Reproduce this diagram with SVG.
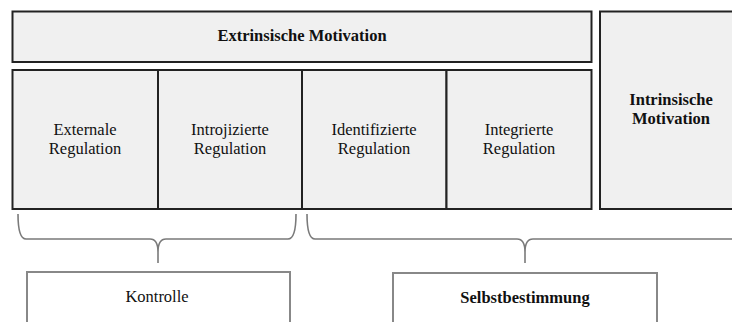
<svg xmlns="http://www.w3.org/2000/svg" width="732" height="322" viewBox="0 0 732 322">
<style>
.box{fill:#f0f0f0;stroke:#222;stroke-width:2}
.sub{fill:#fff;stroke:#888;stroke-width:2}
.brace{fill:none;stroke:#7a7a7a;stroke-width:1.6}
.t{font-family:'Liberation Serif','Times New Roman',serif;font-size:16.5px;fill:#111;text-anchor:middle}
.b{font-weight:bold}
</style>
<rect width="732" height="322" fill="#fff"/>
<g id="extrinsisch">
<rect class="box" x="12.5" y="11.5" width="579" height="50.5"/>
<text class="t b" x="302" y="41">Extrinsische Motivation</text>
</g>
<g id="external">
<rect class="box" x="12.5" y="70" width="145.5" height="139"/>
<text class="t" x="85" y="135">Externale</text>
<text class="t" x="85" y="154">Regulation</text>
</g>
<g id="introjiziert">
<rect class="box" x="158" y="70" width="144" height="139"/>
<text class="t" x="230" y="135">Introjizierte</text>
<text class="t" x="230" y="154">Regulation</text>
</g>
<g id="identifiziert">
<rect class="box" x="302" y="70" width="144.5" height="139"/>
<text class="t" x="374" y="135">Identifizierte</text>
<text class="t" x="374" y="154">Regulation</text>
</g>
<g id="integriert">
<rect class="box" x="446.5" y="70" width="145" height="139"/>
<text class="t" x="519" y="135">Integrierte</text>
<text class="t" x="519" y="154">Regulation</text>
</g>
<g id="intrinsisch">
<rect class="box" x="600" y="11.5" width="150" height="197.5"/>
<text class="t b" x="671" y="105">Intrinsische</text>
<text class="t b" x="671" y="124">Motivation</text>
</g>
<g id="connectors">
<path class="brace" d="M18,214 Q18,239 26,239 H150 Q158,239 158,252 V263 M158,252 Q158,239 166,239 H288 Q296,239 296,214"/>
<path class="brace" d="M307,214 Q307,239 315,239 H517 Q525,239 525,252 V263 M525,252 Q525,239 533,239 H735 Q743,239 743,214"/>
</g>
<g id="kontrolle">
<rect class="sub" x="27" y="272" width="263" height="70"/>
<text class="t" x="157" y="302">Kontrolle</text>
</g>
<g id="selbstbestimmung">
<rect class="sub" x="393" y="273" width="264" height="70"/>
<text class="t b" x="525" y="303">Selbstbestimmung</text>
</g>
</svg>
